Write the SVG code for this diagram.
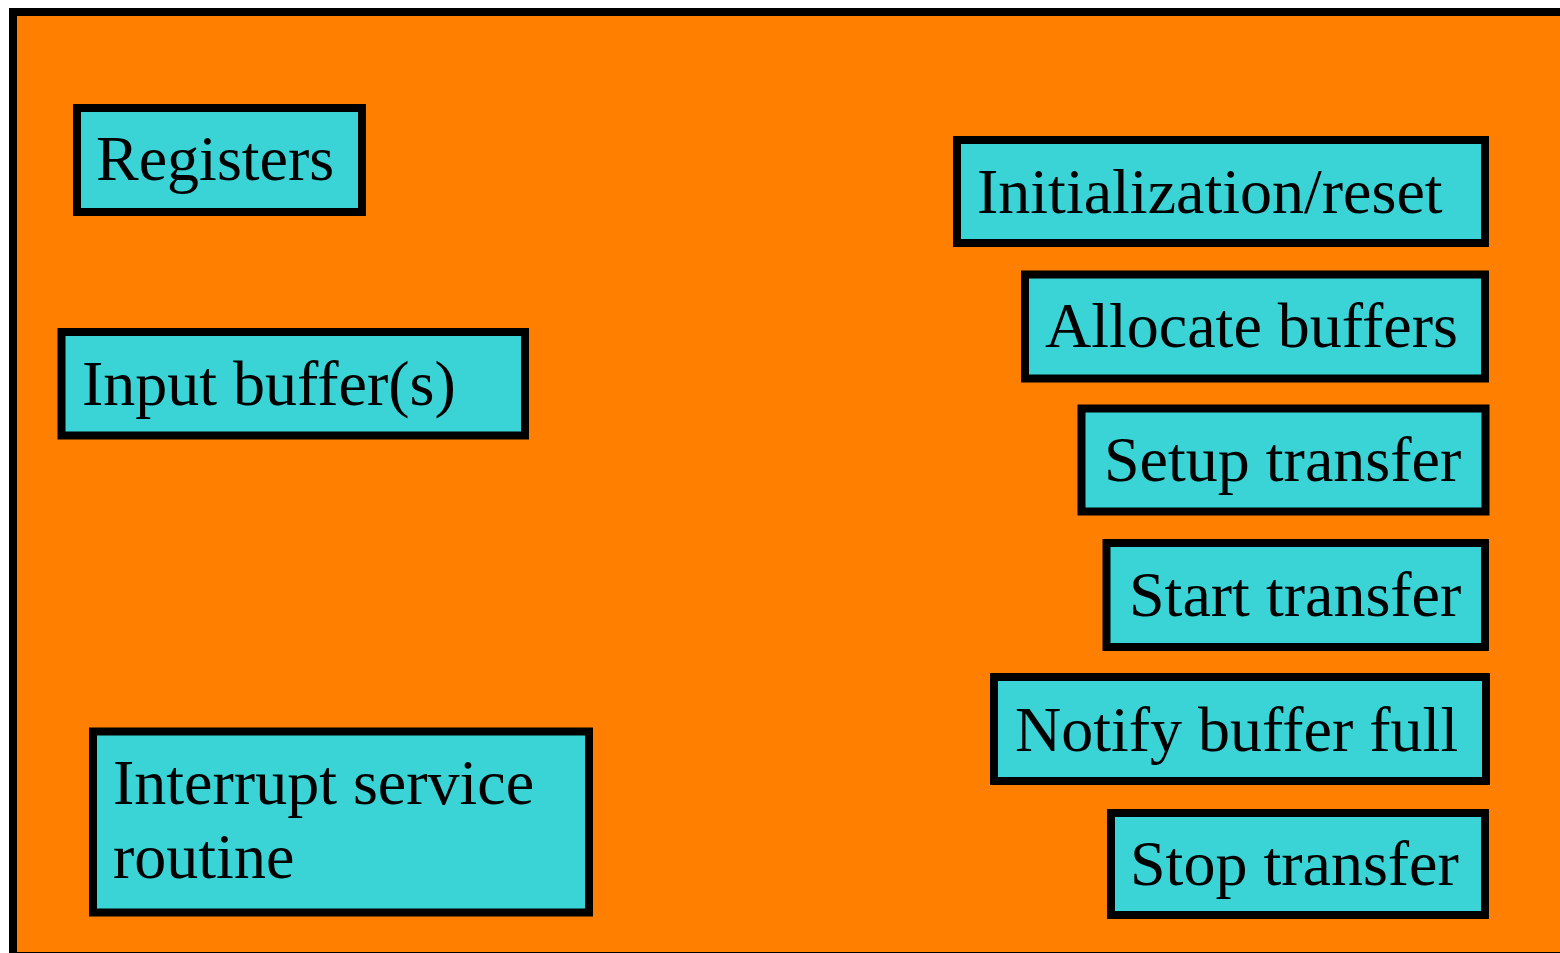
<svg xmlns="http://www.w3.org/2000/svg" width="1560" height="953" viewBox="0 0 1560 953">
  <style>
    .frame { fill: #FF7F00; stroke: #000; stroke-width: 8; }
    .box { fill: #3AD4D6; stroke: #000; stroke-width: 8; }
    .label { font-family: "Liberation Serif", "Times New Roman", serif; font-size: 64px; fill: #000; }
  </style>

  <!-- driver module container -->
  <rect class="frame" x="13" y="12" width="1560" height="944"/>

  <!-- left column: data and handler -->
  <g id="registers">
    <rect class="box" x="77" y="108" width="285" height="104"/>
    <text class="label" x="96" y="180">Registers</text>
  </g>
  <g id="input-buffers">
    <rect class="box" x="61.5" y="332" width="463.5" height="103.5"/>
    <text class="label" x="82" y="405">Input buffer(s)</text>
  </g>
  <g id="interrupt-service-routine">
    <rect class="box" x="93" y="731.5" width="496" height="181"/>
    <text class="label" x="113" y="804">Interrupt service</text>
    <text class="label" x="113" y="878">routine</text>
  </g>

  <!-- right column: operations -->
  <g id="initialization-reset">
    <rect class="box" x="957" y="140" width="528" height="103"/>
    <text class="label" x="977" y="213">Initialization/reset</text>
  </g>
  <g id="allocate-buffers">
    <rect class="box" x="1025" y="274.5" width="460" height="104"/>
    <text class="label" x="1045" y="347">Allocate buffers</text>
  </g>
  <g id="setup-transfer">
    <rect class="box" x="1081.5" y="408.5" width="404" height="103"/>
    <text class="label" x="1104" y="481">Setup transfer</text>
  </g>
  <g id="start-transfer">
    <rect class="box" x="1106.5" y="543" width="378.5" height="104"/>
    <text class="label" x="1129" y="616">Start transfer</text>
  </g>
  <g id="notify-buffer-full">
    <rect class="box" x="994" y="677" width="492" height="104"/>
    <text class="label" x="1015" y="751">Notify buffer full</text>
  </g>
  <g id="stop-transfer">
    <rect class="box" x="1111" y="813" width="374" height="102"/>
    <text class="label" x="1130" y="885">Stop transfer</text>
  </g>

  <!-- no connectors between these blocks -->
  <g id="connectors"/>
</svg>
